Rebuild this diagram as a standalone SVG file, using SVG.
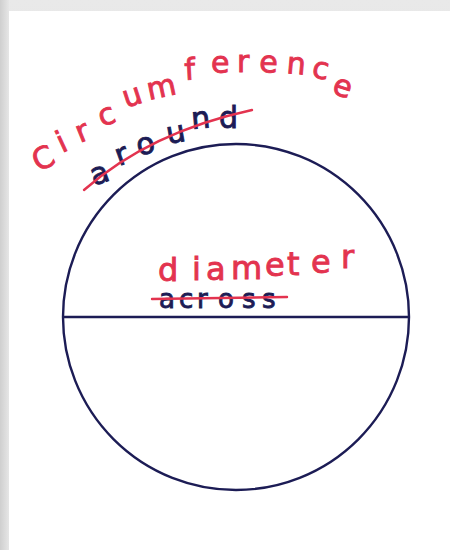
<svg xmlns="http://www.w3.org/2000/svg" width="450" height="550" viewBox="0 0 450 550">
  <defs>
    <linearGradient id="lg" x1="0" y1="0" x2="1" y2="0">
      <stop offset="0" stop-color="#cfcfcf"/>
      <stop offset="1" stop-color="#e6e6e6"/>
    </linearGradient>
    <linearGradient id="tg" x1="0" y1="0" x2="0" y2="1">
      <stop offset="0" stop-color="#e9e9e9"/>
      <stop offset="1" stop-color="#d6d6d6"/>
    </linearGradient>
  </defs>
  <style>
    .ink { fill: none; stroke: #1c1c55; stroke-width: 2.4; }
    .red { font-family: "DejaVu Sans", "Liberation Sans", sans-serif; fill: #e3334f; stroke: #e3334f; stroke-width: 0.9; }
    .navy { font-family: "DejaVu Sans", "Liberation Sans", sans-serif; fill: #1c1c55; stroke: #1c1c55; stroke-width: 0.9; }
    .strike { fill: none; stroke: #e3334f; stroke-width: 2.4; stroke-linecap: round; }
  </style>
  <rect width="450" height="550" fill="url(#tg)"/>
  <rect x="0" y="0" width="9" height="550" fill="url(#lg)"/>
  <rect x="9" y="11" width="441" height="539" fill="#ffffff"/>

  <g id="circle">
    <circle class="ink" cx="236" cy="317" r="173"/>
  </g>
  <g id="diameter">
    <line class="ink" x1="63" y1="317" x2="409" y2="317"/>
  </g>

  <g id="label-circumference">
    <text class="red" font-size="30"
      x="38 62 80 102 126 149 185 211 237 259 286 311 331"
      y="172 153 143 127 108 100 80 73 72 72 73 77 93"
      rotate="-25 -25 -22 -20 -18 -12 -3 0 0 2 5 10 18">Circumference</text>
  </g>
  <g id="label-around">
    <text class="navy" font-size="30"
      x="94 119 139 168 192 219"
      y="186 166 156 144 129 128"
      rotate="-20 -20 -15 -10 -5 0">around</text>
    <path class="strike" d="M 84 190 Q 150 132 252 110"/>
  </g>
  <g id="label-diameter">
    <text class="red" font-size="32"
      x="158 192 206 231 265 287 311 341"
      y="281 280 280 279 276 275 273 268">diameter</text>
  </g>
  <g id="label-across">
    <text class="navy" font-size="26"
      x="159 179 197 218 242 262"
      y="308 308 308 308 308 308">across</text>
    <line class="strike" x1="152" y1="299" x2="287" y2="297"/>
  </g>
</svg>
